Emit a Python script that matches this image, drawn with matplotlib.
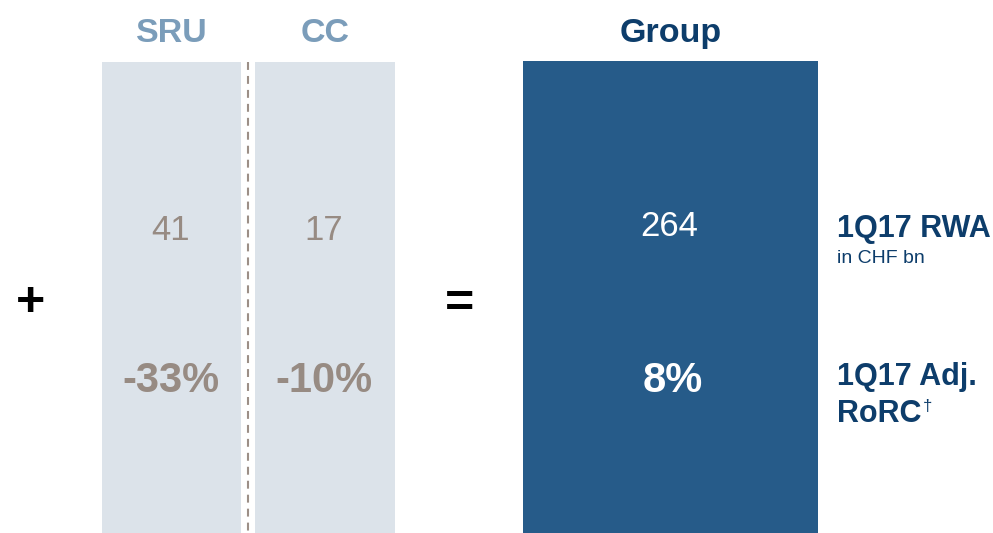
import matplotlib
matplotlib.use("Agg")
import matplotlib.pyplot as plt

# data
segments = ["SRU", "CC", "Group"]
rwa_bn = [41, 17, 264]
adj_rorc_pct = [-33, -10, 8]
row_labels = ["1Q17 RWA", "1Q17 Adj.", "RoRC"]
rwa_unit = "in CHF bn"
footnote_mark = "\u2020"

# styling
LIGHT_BOX = "#dce3ea"
GROUP_BOX = "#265b89"
HEAD_LIGHT = "#7b9dba"
NAVY = "#0d3d6b"
GRAY_TEXT = "#978b83"
DASH = "#9c8f87"

W, H = 993, 533
plt.rcParams["font.family"] = ["Liberation Sans", "DejaVu Sans"]

fig = plt.figure(figsize=(W / 100, H / 100), dpi=100)
ax = fig.add_axes([0, 0, 1, 1])
ax.set_xlim(0, W)
ax.set_ylim(H, 0)
ax.axis("off")

# box geometry in pixel space
centers = [171.5, 325, 670.5]
widths = [139, 140, 295]
tops = [62, 62, 61]
box_colors = [LIGHT_BOX, LIGHT_BOX, GROUP_BOX]
head_colors = [HEAD_LIGHT, HEAD_LIGHT, NAVY]
value_colors = [GRAY_TEXT, GRAY_TEXT, "white"]

for i, name in enumerate(segments):
    ax.bar(centers[i], H - tops[i], bottom=tops[i], width=widths[i],
           color=box_colors[i], linewidth=0)
    ax.text(centers[i], 42, name, ha="center", va="baseline",
            fontsize=24.5, fontweight="bold", color=head_colors[i])
    ax.text(centers[i] - 1, 240 if i < 2 else 236, str(rwa_bn[i]),
            ha="center", va="baseline", fontsize=25, color=value_colors[i])
    ax.text(centers[i] + (-1 if i < 2 else 2), 392,
            f"{adj_rorc_pct[i]}%", ha="center", va="baseline",
            fontsize=30, fontweight="bold", color=value_colors[i])

# dashed divider between SRU and CC
ax.plot([248, 248], [62, H], color=DASH, linewidth=1.5,
        dashes=(3.8, 2.9), solid_capstyle="butt")

# operators
ax.text(30, 303, "+", ha="center", va="center", fontsize=36,
        fontweight="bold", color="black")
ax.text(459.5, 305, "=", ha="center", va="center", fontsize=36,
        fontweight="bold", color="black")

# row labels on the right
ax.text(837, 237, row_labels[0], ha="left", va="baseline", fontsize=22,
        fontweight="bold", color=NAVY)
ax.text(837, 263, rwa_unit, ha="left", va="baseline", fontsize=14,
        color=NAVY)
ax.text(837, 385, row_labels[1], ha="left", va="baseline", fontsize=22,
        fontweight="bold", color=NAVY)
rorc = ax.text(837, 422, row_labels[2], ha="left", va="baseline",
               fontsize=22, fontweight="bold", color=NAVY)

# superscript dagger right after "RoRC"
fig.canvas.draw()
bb = rorc.get_window_extent().transformed(ax.transData.inverted())
ax.text(bb.x1 + 1, 411, footnote_mark, ha="left", va="baseline",
        fontsize=12, color=NAVY)

fig.savefig("out.png", dpi=100)
